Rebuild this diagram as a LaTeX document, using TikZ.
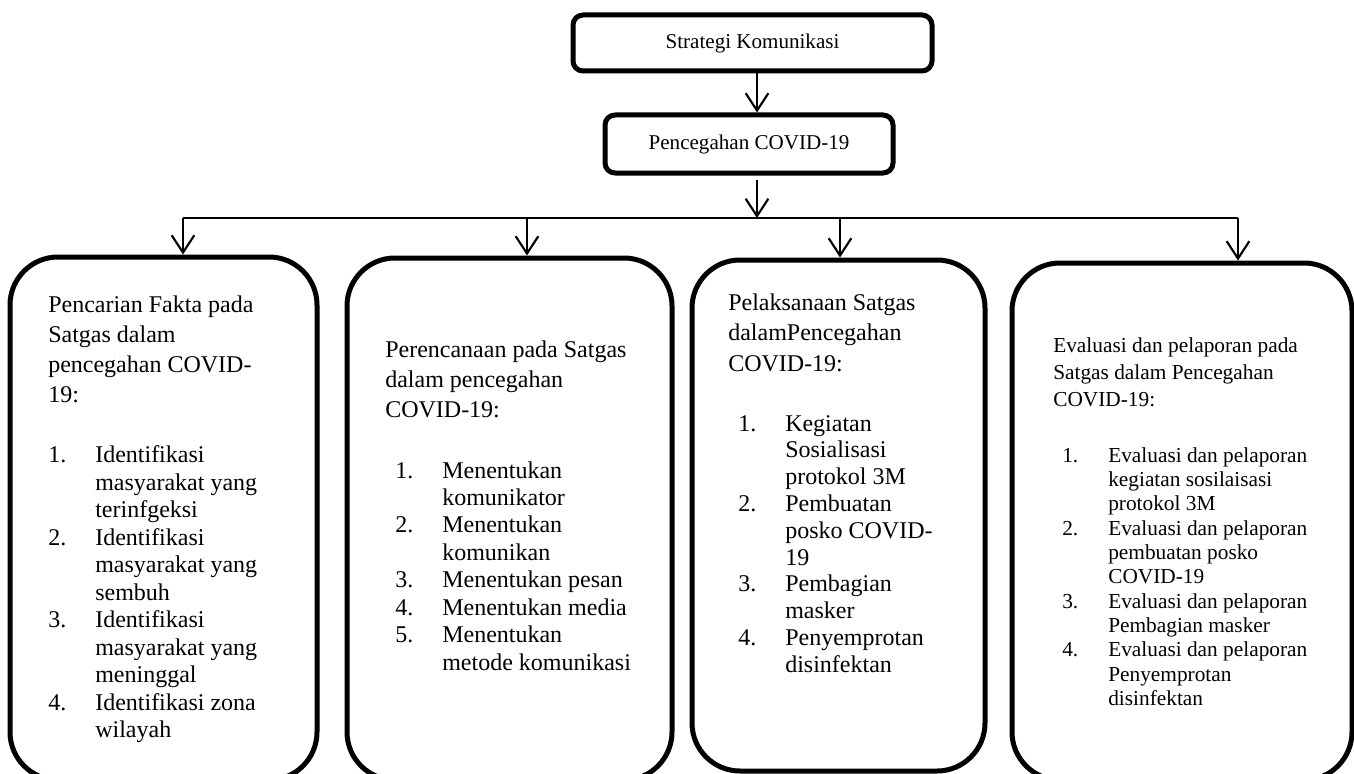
\documentclass[tikz,border=0pt]{standalone}
\usepackage{fontspec}
\setmainfont{Liberation Serif}
\usetikzlibrary{arrows.meta}
\newlength\myind
\newlength\mynumw
\newcommand\numit[1]{\hspace*{\myind}\makebox[\mynumw][l]{#1}}
\newcommand\contit{\hspace*{\myind}\hspace*{\mynumw}}
\begin{document}
\begin{tikzpicture}[x=0.75pt,y=-0.75pt,
  topbox/.style={draw, line width=3.75pt, rounded corners=7.5pt, inner sep=0pt,
    font=\fontsize{15.8pt}{19pt}\selectfont},
  bigbox/.style={draw, line width=3.75pt, rounded corners=36pt, inner sep=0pt},
  boxtext/.style={anchor=base west, inner sep=0pt, text width=260pt, align=flush left},
  arr/.style={line width=1.6pt, -{Straight Barb[length=13pt,width=17pt]}},
  hline/.style={line width=1.5pt}]
\clip (0,0) rectangle (1354,774);
\fill[white] (0,0) rectangle (1354,774);

% top boxes
\node[topbox, minimum width=269.25pt, minimum height=42pt] (A) at (752.5,43) {Strategi Komunikasi};
\node[topbox, minimum width=216pt, minimum height=43.5pt] (B) at (749,144) {Pencegahan COVID-19};

% big boxes
\node[bigbox, minimum width=230.25pt, minimum height=392.25pt] (b1) at (163.5,518.5) {};
\node[bigbox, minimum width=243.75pt, minimum height=391.5pt] (b2) at (509.5,519) {};
\node[bigbox, minimum width=219.75pt, minimum height=383.25pt] (b3) at (838.5,515.5) {};
\node[bigbox, minimum width=255pt, minimum height=387.75pt] (b4) at (1182,521.5) {};

% connectors
\coordinate (hub) at (757,218);
\coordinate (hl) at (183,218);
\coordinate (d2) at (527,218);
\coordinate (d3) at (840,218);
\coordinate (hr) at (1238,218);

\draw[arr] ([xshift=3.4pt]A.south) -- ([xshift=3.4pt]A.south |- B.north);
\draw[arr] ([xshift=6pt,yshift=-3pt]B.south) -- (hub);
\draw[hline] (hl) -- (hr);
\draw[arr] (hl) -- (hl |- b1.north);
\draw[arr] (d2) -- (d2 |- b2.north);
\draw[arr] (d3) -- (d3 |- b3.north);
\draw[arr] (hr) -- (hr |- b4.north);

% box texts
\node[boxtext, font=\fontsize{18pt}{20.6pt}\selectfont] (t1) at (48,312) {%
\setlength\myind{0pt}\setlength\mynumw{35.25pt}%
Pencarian Fakta pada\\[2.1pt]
Satgas dalam\\[2.1pt]
pencegahan COVID-\\[2.1pt]
19:\\[24.4pt]
\numit{1.}Identifikasi\\
\contit masyarakat yang\\
\contit terinfgeksi\\
\numit{2.}Identifikasi\\
\contit masyarakat yang\\
\contit sembuh\\
\numit{3.}Identifikasi\\
\contit masyarakat yang\\
\contit meninggal\\
\numit{4.}Identifikasi zona\\
\contit wilayah};

\node[boxtext, font=\fontsize{18pt}{20.6pt}\selectfont] (t2) at (385,357) {%
\setlength\myind{7.5pt}\setlength\mynumw{35.25pt}%
Perencanaan pada Satgas\\[2.25pt]
dalam pencegahan\\[2.25pt]
COVID-19:\\[24.45pt]
\numit{1.}Menentukan\\
\contit komunikator\\
\numit{2.}Menentukan\\
\contit komunikan\\
\numit{3.}Menentukan pesan\\
\numit{4.}Menentukan media\\
\numit{5.}Menentukan\\
\contit metode komunikasi};

\node[boxtext, font=\fontsize{18pt}{20.1pt}\selectfont] (t3) at (728,310) {%
\setlength\myind{7.5pt}\setlength\mynumw{35.25pt}%
Pelaksanaan Satgas\\[2.8pt]
dalamPencegahan\\[2.8pt]
COVID-19:\\[24.9pt]
\numit{1.}Kegiatan\\
\contit Sosialisasi\\
\contit protokol 3M\\
\numit{2.}Pembuatan\\
\contit posko COVID-\\
\contit 19\\
\numit{3.}Pembagian\\
\contit masker\\
\numit{4.}Penyemprotan\\
\contit disinfektan};

\node[boxtext, font=\fontsize{16pt}{18.25pt}\selectfont] (t4) at (1053,352) {%
\setlength\myind{6.75pt}\setlength\mynumw{34.5pt}%
Evaluasi dan pelaporan pada\\[2pt]
Satgas dalam Pencegahan\\[2pt]
COVID-19:\\[23.8pt]
\numit{1.}Evaluasi dan pelaporan\\
\contit kegiatan sosilaisasi\\
\contit protokol 3M\\
\numit{2.}Evaluasi dan pelaporan\\
\contit pembuatan posko\\
\contit COVID-19\\
\numit{3.}Evaluasi dan pelaporan\\
\contit Pembagian masker\\
\numit{4.}Evaluasi dan pelaporan\\
\contit Penyemprotan\\
\contit disinfektan};
\end{tikzpicture}
\end{document}
